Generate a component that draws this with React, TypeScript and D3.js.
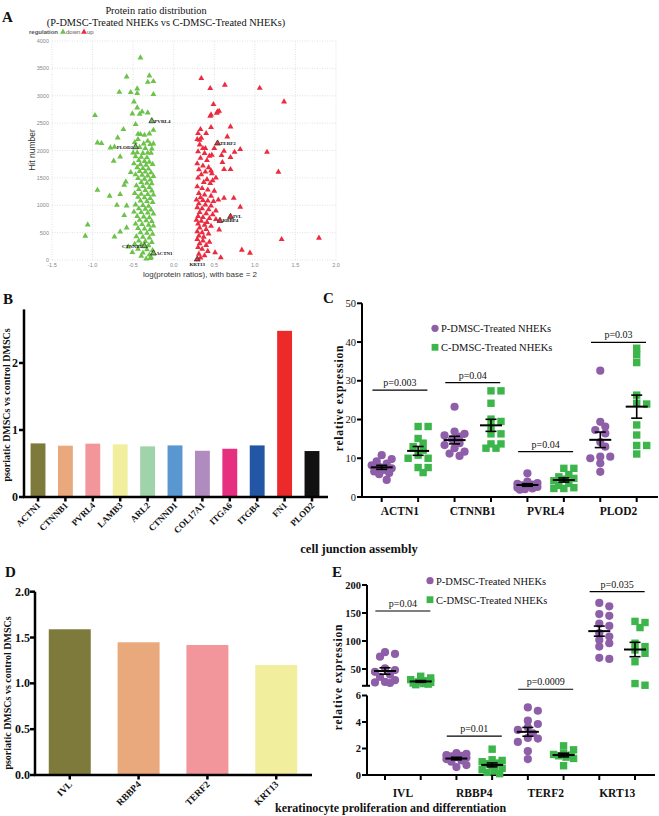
import React, { useEffect, useRef } from 'react';
import * as d3 from 'd3';

const SERIF = '"Liberation Serif", "Times New Roman", serif';
const SANS = '"Liberation Sans", Arial, sans-serif';

// ---- panel A : protein ratio distribution ----
const downPoints: [number, number][] = [
  [-0.41, 3694], [-0.58, 3347], [-0.30, 3365], [-0.32, 3250], [-0.25, 3263], [-0.67, 3068],
  [-0.53, 3062], [-0.45, 3128], [-0.45, 3044], [-0.25, 3026], [-0.49, 2891], [-0.45, 2781],
  [-0.51, 2672], [-0.42, 2666], [-0.39, 2708], [-0.32, 2690], [-0.97, 2642], [-0.47, 2478],
  [-0.62, 2386], [-0.25, 2374], [-0.30, 2306], [-0.41, 2295], [-0.69, 2233], [-0.44, 2204],
  [-0.32, 2173], [-0.94, 2142], [-0.89, 2131], [-0.78, 2051], [-0.73, 2064], [-0.37, 2124],
  [-0.29, 2113], [-0.25, 2124], [-0.50, 1960], [-0.45, 1962], [-0.32, 1958], [-0.28, 1955],
  [-0.66, 1887], [-0.74, 1808], [-0.53, 1601], [-0.59, 1430], [-0.61, 1370], [-0.94, 1278],
  [-0.79, 1169], [-0.66, 1199], [-0.70, 1004], [-0.58, 992], [-0.61, 816], [-1.06, 645],
  [-1.09, 438], [-0.66, 517], [-0.58, 590], [-0.73, 426], [-0.56, 243], [-0.51, 140],
  [-0.29, 31], [-0.40, 73], [-0.28, 49],
  [-0.44, 2300], [-0.36, 2280], [-0.48, 2150], [-0.42, 2060], [-0.35, 2040], [-0.27, 2030],
  [-0.38, 1950], [-0.47, 1890], [-0.40, 1880], [-0.33, 1870], [-0.43, 1820], [-0.36, 1805],
  [-0.30, 1790], [-0.49, 1760], [-0.41, 1745], [-0.34, 1735], [-0.26, 1750], [-0.45, 1690],
  [-0.38, 1675], [-0.31, 1665], [-0.42, 1620], [-0.35, 1610], [-0.28, 1595], [-0.47, 1560],
  [-0.39, 1550], [-0.32, 1540], [-0.25, 1530], [-0.44, 1490], [-0.36, 1480], [-0.29, 1465],
  [-0.40, 1420], [-0.33, 1405], [-0.27, 1395], [-0.46, 1360], [-0.38, 1345], [-0.30, 1330],
  [-0.43, 1290], [-0.35, 1275], [-0.27, 1265], [-0.48, 1220], [-0.40, 1205], [-0.32, 1200],
  [-0.25, 1190], [-0.44, 1150], [-0.36, 1140], [-0.29, 1125], [-0.41, 1080], [-0.33, 1070],
  [-0.26, 1055], [-0.47, 1010], [-0.38, 1000], [-0.31, 985], [-0.43, 940], [-0.35, 930],
  [-0.28, 915], [-0.49, 880], [-0.40, 870], [-0.32, 860], [-0.25, 845], [-0.45, 800],
  [-0.37, 790], [-0.30, 775], [-0.42, 730], [-0.34, 720], [-0.27, 705], [-0.47, 660],
  [-0.39, 650], [-0.31, 640], [-0.25, 625], [-0.44, 580], [-0.36, 570], [-0.29, 555],
  [-0.41, 500], [-0.33, 490], [-0.26, 475], [-0.46, 430], [-0.38, 420], [-0.30, 405],
  [-0.43, 350], [-0.35, 340], [-0.27, 325], [-0.48, 290], [-0.40, 280], [-0.31, 265],
  [-0.44, 200], [-0.33, 190], [-0.26, 175], [-0.38, 130], [-0.30, 95], [-0.34, 20],
];

const upPoints: [number, number][] = [
  [0.34, 3318], [0.45, 3135], [0.63, 3196], [1.06, 3141], [1.36, 2891], [0.49, 2843],
  [0.54, 2708], [0.56, 2721], [0.53, 2684], [0.46, 2653], [0.45, 2629], [0.70, 2434],
  [0.46, 2423], [0.33, 2386], [0.40, 2313], [0.30, 2313], [0.66, 2252], [0.34, 2228],
  [0.29, 2204], [0.32, 2191], [0.32, 2106], [0.50, 2040], [0.36, 2040], [0.39, 2040],
  [0.82, 2021], [0.75, 1972], [1.15, 1972], [0.62, 1990], [0.47, 1917], [0.59, 1911],
  [0.70, 1875], [0.60, 1784], [0.46, 1631], [0.62, 1656], [0.70, 1656], [1.29, 1607],
  [0.52, 1500], [0.48, 1450], [0.62, 1130], [0.74, 1130], [0.82, 968], [0.52, 743],
  [0.56, 553], [1.33, 377], [1.79, 402], [0.84, 183], [0.94, 128], [0.51, 134], [0.58, 43],
  [0.30, 1980], [0.38, 1950], [0.44, 1900], [0.33, 1860], [0.41, 1820], [0.29, 1760],
  [0.36, 1720], [0.43, 1690], [0.31, 1650], [0.39, 1610], [0.47, 1580], [0.34, 1560],
  [0.30, 1500], [0.41, 1470], [0.37, 1420], [0.45, 1400], [0.29, 1340], [0.35, 1310],
  [0.42, 1280], [0.50, 1260], [0.31, 1220], [0.38, 1190], [0.46, 1170], [0.33, 1140],
  [0.28, 1100], [0.36, 1090], [0.42, 1080], [0.49, 1070], [0.55, 1100], [0.31, 1030],
  [0.39, 1010], [0.46, 990], [0.29, 960], [0.35, 940], [0.43, 920], [0.52, 900],
  [0.32, 870], [0.40, 850], [0.48, 830], [0.30, 800], [0.36, 780], [0.44, 760],
  [0.28, 730], [0.34, 710], [0.41, 690], [0.30, 660], [0.38, 640], [0.46, 620],
  [0.32, 590], [0.40, 560], [0.29, 520], [0.35, 500], [0.43, 480], [0.31, 440],
  [0.37, 420], [0.29, 380], [0.36, 350], [0.44, 330], [0.32, 300], [0.40, 270],
  [0.30, 230], [0.35, 200], [0.42, 160], [0.31, 110], [0.38, 80], [0.33, 40],
];

const markedGenes = ['PVRL4', 'PLOD2', 'CTNNB1', 'ACTN1', 'TERF2', 'IVL', 'RBBP4', 'KRT13'];
const markedX = [-0.27, -0.47, -0.36, -0.25, 0.54, 0.70, 0.57, 0.29];
const markedY = [2538, 2064, 256, 122, 2131, 791, 718, 13];
const markedUp = [false, false, false, false, true, true, true, true];
const markedSide = ['right', 'left', 'left', 'right', 'right', 'right', 'right', 'below'];

// ---- panel B : cell junction assembly ratios ----
const junctionGenes = ['ACTN1', 'CTNNB1', 'PVRL4', 'LAMB3', 'ARL2', 'CTNND1', 'COL17A1', 'ITGA6', 'ITGB4', 'FN1', 'PLOD2'];
const junctionRatios = [0.80, 0.766, 0.796, 0.786, 0.756, 0.77, 0.69, 0.72, 0.77, 2.48, 0.686];
const junctionColors = ['#7e7a3b', '#eaa97c', '#f2969b', '#f1ef9d', '#9fd3a9', '#5897d0', '#b08bbf', '#e72f80', '#2356a5', '#ec2a2a', '#111111'];

// ---- panel C : qPCR junction genes ----
const cGenes = ['ACTN1', 'CTNNB1', 'PVRL4', 'PLOD2'];
const cPsoriatic = [
  [10.8, 9.8, 9.2, 8.6, 8.2, 7.8, 7.4, 7.0, 6.6, 6.2, 5.9, 4.4],
  [23.3, 16.9, 16.3, 15.9, 15.6, 14.9, 13.9, 13.4, 12.6, 11.7, 11.2, 10.6],
  [6.1, 4.0, 3.6, 3.4, 3.2, 3.0, 2.8, 2.6, 2.4, 2.2, 2.0, 1.9],
  [32.6, 19.4, 18.2, 17.3, 16.4, 14.2, 13.0, 10.4, 10.4, 10.0, 8.7, 6.5],
];
const cControl = [
  [18.2, 18.2, 15.1, 13.9, 13.0, 12.1, 10.8, 10.0, 10.0, 7.6, 7.6, 6.3],
  [27.4, 27.4, 24.2, 20.1, 19.5, 18.2, 16.3, 16.3, 13.7, 13.7, 12.6, 12.6],
  [7.4, 7.4, 5.8, 5.2, 4.8, 4.6, 4.2, 3.5, 3.0, 2.4, 2.2, 2.2],
  [38.4, 36.7, 34.7, 26.3, 24.2, 24.0, 18.6, 16.0, 13.3, 13.3, 11.1],
];
const cPLabels = ['p=0.003', 'p=0.04', 'p=0.04', 'p=0.03'];
const cPLevels = [27.6, 29.5, 11.7, 39.9];
const cTicks = [0, 10, 20, 30, 40, 50];

// ---- panel D : proliferation / differentiation ratios ----
const prolifGenes = ['IVL', 'RBBP4', 'TERF2', 'KRT13'];
const prolifRatios = [1.59, 1.448, 1.418, 1.20];
const prolifColors = ['#7e7a3b', '#eaa97c', '#f2969b', '#f1ef9d'];
const dTicks = [0, 0.5, 1.0, 1.5, 2.0];

// ---- panel E : qPCR proliferation genes ----
const eGenes = ['IVL', 'RBBP4', 'TERF2', 'KRT13'];
const ePsoriatic = [
  [80, 77, 72, 51, 48, 45, 40, 36, 30, 27, 26, 25],
  [1.65, 1.6, 1.5, 1.45, 1.4, 1.35, 1.3, 1.2, 1.1, 1.0, 0.75, 0.6],
  [5.1, 4.85, 4.1, 3.85, 3.6, 3.4, 3.15, 2.8, 2.75, 2.5, 1.8, 1.2],
  [168, 162, 148, 145, 131, 127, 114, 108, 102, 96, 90, 70, 68],
];
const eControl = [
  [37, 34, 31, 29, 27, 26, 25, 24, 23, 22],
  [1.95, 1.15, 1.1, 1.0, 0.9, 0.85, 0.7, 0.5, 0.4, 0.3, 0.2, 0.1],
  [2.2, 1.9, 1.65, 1.55, 1.5, 1.45, 1.35, 1.25, 0.7],
  [135, 133, 124, 96, 90, 84, 78, 63, 24, 21],
];
const eSegment = ['upper', 'lower', 'lower', 'upper'];
const ePLabels = ['p=0.04', 'p=0.01', 'p=0.0009', 'p=0.035'];
const ePLevels = [153.6, 2.94, 6.47, 188];
const eUpperTicks = [50, 100, 150, 200];
const eLowerTicks = [0, 2, 4, 6];

const legendLabels = ['P-DMSC-Treated NHEKs', 'C-DMSC-Treated NHEKs'];

const PURPLE = '#8e5ea9';
const GREEN = '#3cb54a';

// spread the points of one column sideways, GraphPad style (overlap allowed, spread capped)
function swarm(vals: number[], y: (v: number) => number) {
  const order = d3.range(vals.length).sort((a, b) => vals[b] - vals[a]);
  const placed: { x: number; y: number }[] = [];
  const off: number[] = new Array(vals.length).fill(0);
  const cands = [0, 5, -5, 10, -10, 2.5, -2.5, 7.5, -7.5];
  order.forEach((i) => {
    const py = y(vals[i]);
    let best = 0;
    let bestD = -1;
    for (const c of cands) {
      const dmin = placed.length ? d3.min(placed, (p) => Math.hypot(p.x - c, p.y - py))! : 99;
      if (dmin >= 6.5) { best = c; bestD = 99; break; }
      if (dmin > bestD) { bestD = dmin; best = c; }
    }
    off[i] = best;
    placed.push({ x: best, y: py });
  });
  return off;
}

function App() {
  const ref = useRef<SVGSVGElement>(null);

  useEffect(() => {
    const svg = d3.select(ref.current);
    svg.selectAll('*').remove();

    const text = (g: any, x: number, y: number, s: string, size: number, opts: any = {}) =>
      g
        .append('text')
        .attr('x', x)
        .attr('y', y)
        .attr('font-family', opts.family || SERIF)
        .attr('font-size', size)
        .attr('font-weight', opts.bold ? 'bold' : 'normal')
        .attr('text-anchor', opts.anchor || 'start')
        .attr('fill', opts.fill || '#111')
        .attr('transform', opts.rotate ? `rotate(${opts.rotate},${x},${y})` : null)
        .attr('letter-spacing', opts.spacing || null)
        .text(s);

    // ================= A =================
    const gA = svg.append('g');
    const ax = d3.scaleLinear().domain([-1.5, 2.0]).range([52, 336]);
    const ay = d3.scaleLinear().domain([0, 4000]).range([260, 41]);
    const xt = d3.range(-1.5, 2.01, 0.5);
    const yt = d3.range(0, 4001, 500);

    gA.selectAll('.vg').data(xt).enter().append('line')
      .attr('x1', (d) => ax(d)).attr('x2', (d) => ax(d))
      .attr('y1', ay(0)).attr('y2', ay(4000))
      .attr('stroke', '#d9d9d9').attr('stroke-width', 0.8).attr('stroke-dasharray', '1,1.5');
    gA.selectAll('.hg').data(yt).enter().append('line')
      .attr('x1', ax(-1.5)).attr('x2', ax(2.0))
      .attr('y1', (d) => ay(d)).attr('y2', (d) => ay(d))
      .attr('stroke', '#d9d9d9').attr('stroke-width', 0.8).attr('stroke-dasharray', '1,1.5');
    xt.forEach((d) => text(gA, ax(d), 266.5, d.toFixed(1), 5.5, { family: SANS, anchor: 'middle', fill: '#888' }));
    yt.forEach((d) => text(gA, 49, ay(d) + 2, String(d), 5.5, { family: SANS, anchor: 'end', fill: '#888' }));

    const tri = d3.symbol().type(d3.symbolTriangle).size(15);
    gA.selectAll('.dn').data(downPoints).enter().append('path')
      .attr('d', tri as any)
      .attr('transform', (d) => `translate(${ax(d[0])},${ay(d[1])})`)
      .attr('fill', '#6cc24a');
    gA.selectAll('.up').data(upPoints).enter().append('path')
      .attr('d', tri as any)
      .attr('transform', (d) => `translate(${ax(d[0])},${ay(d[1])})`)
      .attr('fill', '#ec2b3f');
    markedGenes.forEach((name, i) => {
      const px = ax(markedX[i]);
      const py = ay(markedY[i]);
      gA.append('path').attr('d', tri as any)
        .attr('transform', `translate(${px},${py})`)
        .attr('fill', markedUp[i] ? '#ec2b3f' : '#6cc24a')
        .attr('stroke', '#222').attr('stroke-width', 0.7);
      const side = markedSide[i];
      if (side === 'right') text(gA, px + 2.5, py + 1.8, name, 5, { bold: true });
      else if (side === 'left') text(gA, px - 2.5, py + 1.8, name, 5, { bold: true, anchor: 'end' });
      else text(gA, px, py + 6.5, name, 5, { bold: true, anchor: 'middle' });
    });

    text(gA, 2, 22, 'A', 15, { bold: true });
    text(gA, 156, 14, 'Protein ratio distribution', 10.3, { anchor: 'middle' });
    text(gA, 166, 26, '(P-DMSC-Treated NHEKs vs C-DMSC-Treated NHEKs)', 10.3, { anchor: 'middle' });
    text(gA, 29, 34, 'regulation', 6, { family: SANS, bold: true, fill: '#555' });
    gA.append('path').attr('d', tri as any).attr('transform', 'translate(63,32)').attr('fill', '#6cc24a');
    text(gA, 66, 34, 'down', 6, { family: SANS, fill: '#555' });
    gA.append('path').attr('d', tri as any).attr('transform', 'translate(84,32)').attr('fill', '#ec2b3f');
    text(gA, 87, 34, 'up', 6, { family: SANS, fill: '#555' });
    text(gA, 35, 150, 'Hit number', 8.5, { family: SANS, anchor: 'middle', rotate: -90, fill: '#333' });
    text(gA, 200, 276.5, 'log(protein ratios), with base = 2', 8, { family: SANS, anchor: 'middle', fill: '#333' });

    // ================= B =================
    const gB = svg.append('g');
    const bx = d3.scaleBand().domain(junctionGenes).range([24, 326]).paddingInner(0.457).paddingOuter(0.24);
    const by = d3.scaleLinear().domain([0, 2.8]).range([497, 309.4]);
    gB.selectAll('rect').data(junctionGenes).enter().append('rect')
      .attr('x', (d) => bx(d)!)
      .attr('y', (d, i) => by(junctionRatios[i]))
      .attr('width', bx.bandwidth())
      .attr('height', (d, i) => by(0) - by(junctionRatios[i]))
      .attr('fill', (d, i) => junctionColors[i]);
    gB.append('line').attr('x1', 24).attr('x2', 24).attr('y1', by(0) + 1).attr('y2', by(2.8))
      .attr('stroke', '#000').attr('stroke-width', 2.5);
    gB.append('line').attr('x1', 23).attr('x2', 328).attr('y1', by(0)).attr('y2', by(0))
      .attr('stroke', '#000').attr('stroke-width', 2.5);
    [0, 1, 2].forEach((t) => {
      gB.append('line').attr('x1', 19).attr('x2', 24).attr('y1', by(t)).attr('y2', by(t))
        .attr('stroke', '#000').attr('stroke-width', 2.5);
      text(gB, 18, by(t) + 4, String(t), 12, { bold: true, anchor: 'end' });
    });
    junctionGenes.forEach((g) => {
      const cx = bx(g)! + bx.bandwidth() / 2;
      gB.append('line').attr('x1', cx).attr('x2', cx).attr('y1', by(0)).attr('y2', by(0) + 4.5)
        .attr('stroke', '#000').attr('stroke-width', 2.5);
      text(gB, cx + 3, 506, g, 9, { bold: true, anchor: 'end', rotate: -45 });
    });
    text(gB, 3, 304, 'B', 15, { bold: true });
    text(gB, 10, 405, 'psoriatic DMSCs vs control DMSCs', 10, { bold: true, anchor: 'middle', rotate: -90 });
    text(gB, 359, 553, 'cell junction assembly', 12.5, { bold: true, anchor: 'middle' });

    // ================= D =================
    const gD = svg.append('g');
    const dx = d3.scaleBand().domain(prolifGenes).range([35, 311]).paddingInner(0.39).paddingOuter(0.2);
    const dy = d3.scaleLinear().domain([0, 2]).range([775, 591.7]);
    gD.selectAll('rect').data(prolifGenes).enter().append('rect')
      .attr('x', (d) => dx(d)!)
      .attr('y', (d, i) => dy(prolifRatios[i]))
      .attr('width', dx.bandwidth())
      .attr('height', (d, i) => dy(0) - dy(prolifRatios[i]))
      .attr('fill', (d, i) => prolifColors[i]);
    gD.append('line').attr('x1', 35).attr('x2', 35).attr('y1', dy(0) + 1).attr('y2', dy(2))
      .attr('stroke', '#000').attr('stroke-width', 2.5);
    gD.append('line').attr('x1', 34).attr('x2', 312).attr('y1', dy(0)).attr('y2', dy(0))
      .attr('stroke', '#000').attr('stroke-width', 2.5);
    dTicks.forEach((t) => {
      gD.append('line').attr('x1', 30).attr('x2', 35).attr('y1', dy(t)).attr('y2', dy(t))
        .attr('stroke', '#000').attr('stroke-width', 2.5);
      text(gD, 30, dy(t) + 4, t.toFixed(1), 12, { bold: true, anchor: 'end' });
    });
    prolifGenes.forEach((g) => {
      const cx = dx(g)! + dx.bandwidth() / 2;
      gD.append('line').attr('x1', cx).attr('x2', cx).attr('y1', dy(0)).attr('y2', dy(0) + 4.5)
        .attr('stroke', '#000').attr('stroke-width', 2.5);
      text(gD, cx + 3, 785, g, 9.5, { bold: true, anchor: 'end', rotate: -45 });
    });
    text(gD, 5, 577, 'D', 15, { bold: true });
    text(gD, 11, 693, 'psoriatic DMSCs vs control DMSCs', 10, { bold: true, anchor: 'middle', rotate: -90 });
    text(gD, 275, 812, 'keratinocyte proliferation and differentiation', 12, { bold: true });

    // ================= scatter panels C & E =================
    const drawGroup = (g: any, cx: number, vals: number[], y: (v: number) => number, kind: string) => {
      const off = swarm(vals, y);
      vals.forEach((v, i) => {
        if (kind === 'circle') {
          g.append('circle').attr('cx', cx + off[i]).attr('cy', y(v)).attr('r', 4.1).attr('fill', PURPLE);
        } else {
          g.append('rect').attr('x', cx + off[i] - 3.7).attr('y', y(v) - 3.7)
            .attr('width', 7.4).attr('height', 7.4).attr('fill', GREEN);
        }
      });
      const m = d3.mean(vals)!;
      const sem = d3.deviation(vals)! / Math.sqrt(vals.length);
      g.append('line').attr('x1', cx - 11).attr('x2', cx + 11).attr('y1', y(m)).attr('y2', y(m))
        .attr('stroke', '#000').attr('stroke-width', 2);
      g.append('line').attr('x1', cx).attr('x2', cx).attr('y1', y(m - sem)).attr('y2', y(m + sem))
        .attr('stroke', '#000').attr('stroke-width', 1.6);
      [m - sem, m + sem].forEach((e) => {
        g.append('line').attr('x1', cx - 5.5).attr('x2', cx + 5.5).attr('y1', y(e)).attr('y2', y(e))
          .attr('stroke', '#000').attr('stroke-width', 1.6);
      });
    };

    const legend = (g: any, x: number, y: number) => {
      g.append('circle').attr('cx', x).attr('cy', y).attr('r', 3.6).attr('fill', PURPLE);
      text(g, x + 6, y + 3.8, legendLabels[0], 10.5);
      g.append('rect').attr('x', x - 3.4).attr('y', y + 19 - 3.4).attr('width', 6.8).attr('height', 6.8).attr('fill', GREEN);
      text(g, x + 6, y + 22.8, legendLabels[1], 10.5);
    };

    // ================= C =================
    const gC = svg.append('g');
    const cx = d3.scaleLinear().domain([0, 7]).range([381.7, 636.7]);
    const cy = d3.scaleLinear().domain([0, 50]).range([497, 303.3]);
    gC.append('line').attr('x1', 362).attr('x2', 362).attr('y1', cy(0) + 1).attr('y2', cy(50))
      .attr('stroke', '#000').attr('stroke-width', 2);
    gC.append('line').attr('x1', 361).attr('x2', 658).attr('y1', cy(0)).attr('y2', cy(0))
      .attr('stroke', '#000').attr('stroke-width', 2);
    cTicks.forEach((t) => {
      gC.append('line').attr('x1', 357).attr('x2', 362).attr('y1', cy(t)).attr('y2', cy(t))
        .attr('stroke', '#000').attr('stroke-width', 2);
      text(gC, 356, cy(t) + 3.5, String(t), 10.5, { anchor: 'end' });
    });
    d3.range(8).forEach((i) => {
      gC.append('line').attr('x1', cx(i)).attr('x2', cx(i)).attr('y1', cy(0)).attr('y2', cy(0) + 5)
        .attr('stroke', '#000').attr('stroke-width', 2);
    });
    cGenes.forEach((gname, i) => {
      drawGroup(gC, cx(2 * i), cPsoriatic[i], cy, 'circle');
      drawGroup(gC, cx(2 * i + 1), cControl[i], cy, 'square');
      const mid = (cx(2 * i) + cx(2 * i + 1)) / 2;
      text(gC, mid, 515, gname, 11.5, { bold: true, anchor: 'middle' });
      const py = cy(cPLevels[i]);
      gC.append('line').attr('x1', mid - 27.5).attr('x2', mid + 27.5).attr('y1', py).attr('y2', py)
        .attr('stroke', '#000').attr('stroke-width', 1.2);
      text(gC, mid, py - 4, cPLabels[i], 10, { anchor: 'middle' });
    });
    legend(gC, 435, 328.3);
    text(gC, 323, 303, 'C', 15, { bold: true });
    text(gC, 343, 398, 'relative expression', 11.5, { bold: true, anchor: 'middle', rotate: -90, spacing: 0.8 });

    // ================= E =================
    const gE = svg.append('g');
    const ex = d3.scaleLinear().domain([0, 7]).range([385, 635]);
    const eyUp = d3.scaleLinear().domain([20, 200]).range([685.8, 585]);
    const eyLo = d3.scaleLinear().domain([0, 6]).range([775, 695.5]);
    gE.append('line').attr('x1', 367).attr('x2', 367).attr('y1', eyUp(20)).attr('y2', eyUp(200))
      .attr('stroke', '#000').attr('stroke-width', 2);
    gE.append('line').attr('x1', 367).attr('x2', 367).attr('y1', eyLo(0) + 1).attr('y2', eyLo(6))
      .attr('stroke', '#000').attr('stroke-width', 2);
    gE.append('line').attr('x1', 366).attr('x2', 655).attr('y1', eyLo(0)).attr('y2', eyLo(0))
      .attr('stroke', '#000').attr('stroke-width', 2);
    eUpperTicks.forEach((t) => {
      gE.append('line').attr('x1', 362).attr('x2', 367).attr('y1', eyUp(t)).attr('y2', eyUp(t))
        .attr('stroke', '#000').attr('stroke-width', 2);
      text(gE, 361, eyUp(t) + 3.5, String(t), 10.5, { bold: true, anchor: 'end' });
    });
    gE.append('line').attr('x1', 362).attr('x2', 370).attr('y1', eyUp(20)).attr('y2', eyUp(20))
      .attr('stroke', '#000').attr('stroke-width', 2);
    eLowerTicks.forEach((t) => {
      gE.append('line').attr('x1', 362).attr('x2', 367).attr('y1', eyLo(t)).attr('y2', eyLo(t))
        .attr('stroke', '#000').attr('stroke-width', 2);
      text(gE, 361, eyLo(t) + 3.5, String(t), 10.5, { bold: true, anchor: 'end' });
    });
    d3.range(8).forEach((i) => {
      gE.append('line').attr('x1', ex(i)).attr('x2', ex(i)).attr('y1', eyLo(0)).attr('y2', eyLo(0) + 5)
        .attr('stroke', '#000').attr('stroke-width', 2);
    });
    eGenes.forEach((gname, i) => {
      const y = eSegment[i] === 'upper' ? eyUp : eyLo;
      drawGroup(gE, ex(2 * i), ePsoriatic[i], y, 'circle');
      drawGroup(gE, ex(2 * i + 1), eControl[i], y, 'square');
      const mid = (ex(2 * i) + ex(2 * i + 1)) / 2;
      text(gE, mid, 797, gname, 11.5, { bold: true, anchor: 'middle' });
      const py = y(ePLevels[i]);
      gE.append('line').attr('x1', mid - 27.5).attr('x2', mid + 27.5).attr('y1', py).attr('y2', py)
        .attr('stroke', '#000').attr('stroke-width', 1.2);
      text(gE, mid, py - 4, ePLabels[i], 10, { anchor: 'middle' });
    });
    legend(gE, 430, 580.7);
    text(gE, 332, 577, 'E', 15, { bold: true });
    text(gE, 342, 677, 'relative expression', 11.5, { bold: true, anchor: 'middle', rotate: -90, spacing: 0.8 });
  }, []);

  return (
    <svg
      ref={ref}
      width={659}
      height={816}
      style={{ position: 'absolute', left: 0, top: 0, background: '#fff' }}
    />
  );
}

export default App;
